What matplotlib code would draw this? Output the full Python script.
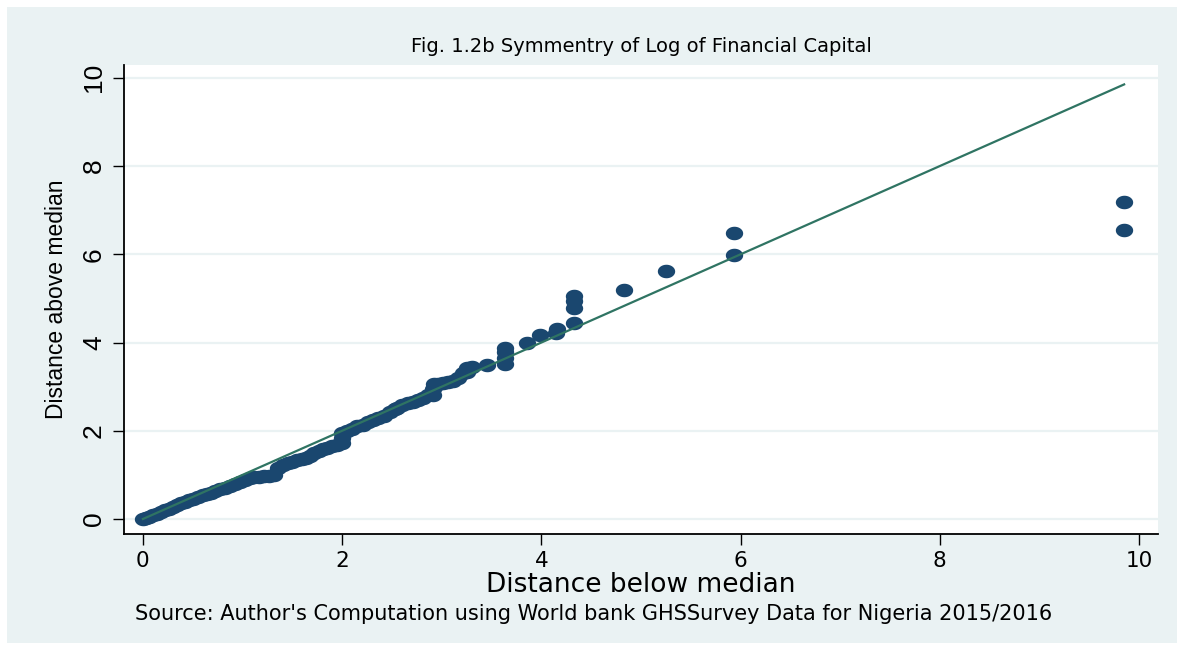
import numpy as np
import matplotlib.pyplot as plt
from matplotlib.path import Path
from matplotlib.patches import Rectangle

# symmetry plot: distance of each order statistic below / above the median
dist_below = [
    0.00, 0.03, 0.06, 0.10, 0.14, 0.18, 0.22, 0.26, 0.30, 0.34,
    0.38, 0.42, 0.46, 0.50, 0.55, 0.60, 0.64, 0.68, 0.72, 0.77,
    0.82, 0.87, 0.92, 0.97, 1.02, 1.07, 1.12, 1.17, 1.22, 1.27,
    1.32, 1.36, 1.41, 1.46, 1.50, 1.55, 1.60, 1.64, 1.68, 1.72,
    1.77, 1.81, 1.85, 1.90, 1.95, 2.00, 2.00, 2.00, 2.05, 2.10,
    2.15, 2.21, 2.26, 2.31, 2.36, 2.42, 2.48, 2.53, 2.55, 2.60,
    2.66, 2.71, 2.76, 2.81, 2.86, 2.91, 2.91, 2.92, 2.96, 3.01,
    3.06, 3.11, 3.16, 3.21, 3.25, 3.25, 3.30, 3.45, 3.63, 3.63,
    3.63, 3.63, 3.86, 3.99, 4.15, 4.16, 4.33, 4.33, 4.33, 4.33,
    4.83, 5.25, 5.93, 5.93, 9.85, 9.85,
]
dist_above = [
    0.00, 0.02, 0.05, 0.08, 0.12, 0.16, 0.20, 0.23, 0.27, 0.31,
    0.36, 0.39, 0.42, 0.45, 0.50, 0.54, 0.56, 0.60, 0.64, 0.68,
    0.71, 0.74, 0.79, 0.84, 0.88, 0.92, 0.95, 0.96, 0.97, 0.98,
    1.00, 1.15, 1.22, 1.28, 1.30, 1.33, 1.36, 1.38, 1.42, 1.50,
    1.55, 1.58, 1.62, 1.65, 1.68, 1.72, 1.83, 1.95, 2.00, 2.05,
    2.10, 2.14, 2.20, 2.25, 2.30, 2.34, 2.42, 2.50, 2.52, 2.58,
    2.62, 2.66, 2.70, 2.75, 2.80, 2.82, 2.95, 3.05, 3.07, 3.09,
    3.10, 3.12, 3.20, 3.30, 3.33, 3.42, 3.44, 3.48, 3.52, 3.65,
    3.78, 3.88, 3.99, 4.17, 4.22, 4.30, 4.45, 4.78, 4.95, 5.05,
    5.20, 5.62, 5.98, 6.48, 6.55, 7.18,
]
# 45-degree reference line up to the largest distance below the median
ref_line = [0.0, 9.85]

ticks = [0, 2, 4, 6, 8, 10]

navy = '#1A476F'
green = '#2F7463'
panel = '#EAF2F3'

# slightly flattened circle for the markers
t = np.linspace(0, 2 * np.pi, 40)
ellipse = Path(np.column_stack([np.cos(t), 0.78 * np.sin(t)]), closed=True)

fig = plt.figure(figsize=(11.84, 6.5), dpi=100)
fig.patches.append(Rectangle((7 / 1184, 7 / 650), 1 - 14 / 1184, 1 - 14 / 650,
                             transform=fig.transFigure, facecolor=panel,
                             edgecolor='none', zorder=0))

ax = fig.add_axes([124 / 1184, 1 - 534 / 650, (1158 - 124) / 1184, (534 - 65) / 650])
ax.set_facecolor('white')
ax.set_zorder(1)

ax.plot(dist_below, dist_above, linestyle='none', marker=ellipse, ms=12.5,
        mfc=navy, mec=navy, mew=0, zorder=2)
ax.plot(ref_line, ref_line, color=green, lw=1.6, zorder=3)

ax.set_xlim(-0.19, 10.19)
ax.set_ylim(-0.34, 10.29)
ax.set_xticks(ticks)
ax.set_yticks(ticks)
ax.grid(axis='y', color=panel, lw=1.6)
ax.set_axisbelow(True)

for side in ['top', 'right']:
    ax.spines[side].set_visible(False)
for side in ['left', 'bottom']:
    ax.spines[side].set_linewidth(1.3)
    ax.spines[side].set_color('black')

ax.tick_params(axis='both', direction='out', length=8, width=1.0, color='black')
ax.tick_params(axis='x', labelsize=15.5, pad=4)
ax.tick_params(axis='y', labelsize=19, pad=5)
for lab in ax.get_yticklabels():
    lab.set_rotation(90)
    lab.set_va('center')
    lab.set_family('Liberation Sans')

ax.set_xlabel('Distance below median', fontsize=19, labelpad=1)
ax.set_ylabel('Distance above median', fontsize=16.5, labelpad=10,
              family='Liberation Sans')

fig.text(641 / 1184, 1 - 47 / 650, 'Fig. 1.2b Symmentry of Log of Financial Capital',
         ha='center', va='center', fontsize=14)
fig.text(135 / 1184, 1 - 614 / 650,
         "Source: Author's Computation using World bank GHSSurvey Data for Nigeria 2015/2016",
         ha='left', va='center', fontsize=15)

fig.savefig('out.png', dpi=100, facecolor='white')
